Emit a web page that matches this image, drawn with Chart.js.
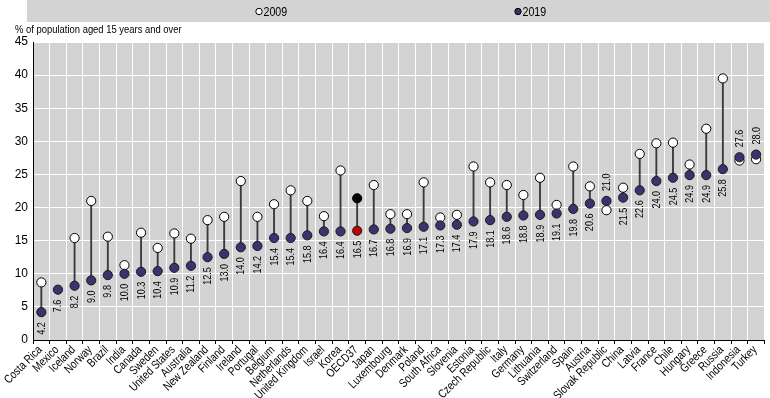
<!DOCTYPE html>
<html>
<head>
<meta charset="utf-8">
<script src="https://cdn.jsdelivr.net/npm/chart.js@4"></script>
<style>
  html, body { margin: 0; padding: 0; background: #fff; }
  #wrap { width: 770px; height: 398px; }
</style>
</head>
<body>
<div id="wrap"><canvas id="myChart" width="770" height="398"></canvas></div>
<script>
const countries = ['Costa Rica', 'Mexico', 'Iceland', 'Norway', 'Brazil', 'India', 'Canada', 'Sweden', 'United States', 'Australia', 'New Zealand', 'Finland', 'Ireland', 'Portugal', 'Belgium', 'Netherlands', 'United Kingdom', 'Israel', 'Korea', 'OECD37', 'Japan', 'Luxembourg', 'Denmark', 'Poland', 'South Africa', 'Slovenia', 'Estonia', 'Czech Republic', 'Italy', 'Germany', 'Lithuania', 'Switzerland', 'Spain', 'Austria', 'Slovak Republic', 'China', 'Latvia', 'France', 'Chile', 'Hungary', 'Greece', 'Russia', 'Indonesia', 'Turkey']
const values2019 = [4.2, 7.6, 8.2, 9.0, 9.8, 10.0, 10.3, 10.4, 10.9, 11.2, 12.5, 13.0, 14.0, 14.2, 15.4, 15.4, 15.8, 16.4, 16.4, 16.5, 16.7, 16.8, 16.9, 17.1, 17.3, 17.4, 17.9, 18.1, 18.6, 18.8, 18.9, 19.1, 19.8, 20.6, 21.0, 21.5, 22.6, 24.0, 24.5, 24.9, 24.9, 25.8, 27.6, 28.0]
// 2009 values (no labels in the original)
const values2009 = [8.7, null, 15.4, 21.0, 15.6, 11.3, 16.2, 13.9, 16.1, 15.3, 18.1, 18.6, 24.0, 18.6, 20.5, 22.6, 21.0, 18.7, 25.6, 21.4, 23.4, 19.0, 19.0, 23.8, 18.5, 18.9, 26.2, 23.8, 23.4, 21.9, 24.5, 20.4, 26.2, 23.2, 19.6, 23.0, 28.1, 29.7, 29.8, 26.5, 31.9, 39.5, 27.1, 27.3]
const yTicks = [0, 5, 10, 15, 20, 25, 30, 35, 40, 45]
const seriesNames = ['2009', '2019']
const axisTitle = '% of population aged 15 years and over'

const PURPLE = '#41306f'
const GREY = '#d3d3d3'
const FONT = 'Arial, "Liberation Sans", sans-serif'
const NARROW = 0.82 // squeeze text to look like Arial Narrow
const oecdIdx = countries.indexOf('OECD37')

const ctx = document.getElementById('myChart')

function narrowText(c, text, x, y, align, angle) {
  c.save()
  c.translate(x, y)
  if (angle) c.rotate(angle)
  c.scale(NARROW, 1)
  c.textAlign = align
  c.fillText(text, 0, 0)
  c.restore()
}

// grey panel, legend band and axis title
const backdrop = {
  id: 'backdrop',
  beforeDraw(chart) {
    const { ctx, chartArea } = chart
    ctx.save()
    ctx.fillStyle = GREY
    ctx.fillRect(chartArea.left, chartArea.top, chartArea.right - chartArea.left, chartArea.bottom - chartArea.top)
    // legend band
    ctx.fillRect(27, 0, 743, 22)
    ctx.lineWidth = 1
    ctx.strokeStyle = '#000'
    ctx.font = '13px ' + FONT
    ctx.textBaseline = 'middle'
    const items = [{ x: 259, fill: '#fff' }, { x: 518, fill: PURPLE }]
    items.forEach((it, k) => {
      ctx.beginPath()
      ctx.arc(it.x, 11.5, 3.2, 0, Math.PI * 2)
      ctx.fillStyle = it.fill
      ctx.fill()
      ctx.stroke()
      ctx.fillStyle = '#000'
      narrowText(ctx, seriesNames[k], it.x + 4.5, 12, 'left')
    })
    ctx.font = '11.5px ' + FONT
    narrowText(ctx, axisTitle, 15, 30, 'left')
    ctx.restore()
  },
  afterDraw(chart) {
    // category labels, rotated 45 degrees
    const { ctx, scales } = chart
    const xs = scales.x
    ctx.save()
    ctx.font = '12px ' + FONT
    ctx.fillStyle = '#000'
    ctx.textBaseline = 'middle'
    countries.forEach((c, i) => {
      const x = xs.getPixelForTick(i)
      narrowText(ctx, c, x - 1, xs.top + 8, 'right', -Math.PI / 4)
    })
    ctx.restore()
  }
}

// 2019 value labels, rotated
const valueLabels = {
  id: 'valueLabels',
  afterDatasetsDraw(chart) {
    const { ctx } = chart
    const meta19 = chart.getDatasetMeta(0)
    ctx.save()
    ctx.font = '11px ' + FONT
    ctx.fillStyle = '#000'
    ctx.textBaseline = 'middle'
    meta19.data.forEach((pt, i) => {
      const v09 = values2009[i]
      const above = v09 != null && v09 < values2019[i]
      narrowText(ctx, values2019[i].toFixed(1), pt.x + 0.5, above ? pt.y - 10 : pt.y + 10,
        above ? 'left' : 'right', -Math.PI / 2)
    })
    ctx.restore()
  }
}

const data = {
  labels: countries,
  datasets: [
    {
      type: 'line',
      label: seriesNames[1],
      data: values2019,
      showLine: false,
      pointRadius: 4.6,
      pointBorderWidth: 1,
      pointBorderColor: '#1a1a1a',
      pointBackgroundColor: countries.map((c, i) => (i === oecdIdx ? '#c00000' : PURPLE)),
      order: 0
    },
    {
      type: 'line',
      label: seriesNames[0],
      data: values2009,
      showLine: false,
      pointRadius: 4.6,
      pointBorderWidth: 1,
      pointBorderColor: '#000',
      pointBackgroundColor: countries.map((c, i) => (i === oecdIdx ? '#000' : '#fff')),
      order: 1
    },
    {
      // connectors between 2009 and 2019
      type: 'bar',
      label: 'range',
      data: values2009.map((v, i) => (v == null ? null : [v, values2019[i]])),
      backgroundColor: '#3a3a3a',
      barThickness: 1.2,
      order: 2
    }
  ]
}

const options = {
  responsive: false,
  animation: false,
  layout: { padding: { top: 42, right: 2, left: 0, bottom: 0 } },
  scales: {
    x: {
      offset: true,
      grid: {
        offset: true,
        color: '#fff',
        lineWidth: 1,
        tickColor: '#000',
        tickLength: 4
      },
      border: { color: '#000', width: 1 },
      ticks: {
        autoSkip: false,
        minRotation: 45,
        maxRotation: 45,
        color: 'rgba(0,0,0,0)', // drawn by the plugin in a narrow face
        font: { family: FONT, size: 11 }
      },
      afterFit: (scale) => { scale.height = 58 }
    },
    y: {
      min: 0,
      max: 45,
      afterBuildTicks: (scale) => { scale.ticks = yTicks.map((v) => ({ value: v })) },
      grid: { color: '#fff', lineWidth: 1, tickLength: 0 },
      border: { color: '#000', width: 1 },
      ticks: {
        padding: 5,
        color: '#000',
        font: { family: FONT, size: 12 }
      },
      afterFit: (scale) => { scale.width = 26 }
    }
  },
  plugins: {
    legend: { display: false },
    tooltip: { enabled: false }
  }
}

new Chart(ctx, {
  type: 'bar',
  data,
  options,
  plugins: [backdrop, valueLabels]
})
</script>
</body>
</html>
